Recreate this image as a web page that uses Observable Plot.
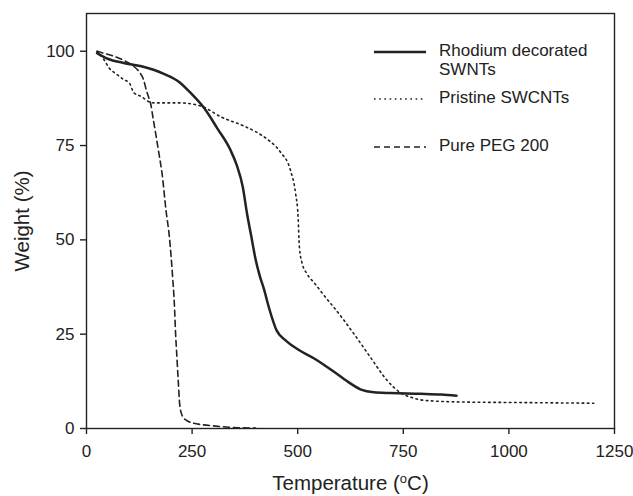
<!DOCTYPE html>
<html><head><meta charset="utf-8">
<script src="https://cdn.jsdelivr.net/npm/d3@7"></script>
<script src="https://cdn.jsdelivr.net/npm/@observablehq/plot@0.6"></script>
<style>body{margin:0;background:#fff} svg{display:block}</style>
</head><body><div id="chart"></div>
<script>
// Rhodium decorated SWNTs
const rhodiumT = [25, 50, 88, 130, 183, 220, 246, 278, 310, 340, 355, 370, 380, 390, 400, 410, 420, 432, 450, 470, 500, 540, 580, 620, 650, 680, 720, 790, 840, 876];
const rhodiumW = [99.5, 98, 96.9, 96, 94, 91.8, 89, 85, 79.5, 74, 70, 64, 57, 51, 45, 40.5, 37, 32, 26, 23.5, 21, 18.5, 15.5, 12.3, 10.3, 9.6, 9.4, 9.2, 9.0, 8.7];
// Pristine SWCNTs
const pristineT = [25, 40, 54, 70, 88, 102, 112, 130, 150, 160, 220, 270, 320, 370, 400, 430, 459, 483, 495, 501, 504, 510, 522, 540, 570, 585, 633, 672, 712, 743, 770, 806, 900, 1000, 1100, 1201];
const pristineW = [100, 98, 95.5, 94, 92.5, 91.5, 89, 88, 86.5, 86.3, 86.3, 85.5, 82.5, 80.3, 78.7, 76.5, 73.3, 68.4, 62.3, 56, 48.1, 44, 41, 38.5, 34.2, 32.2, 25.1, 18.9, 12.7, 9.5, 8.2, 7.4, 7.0, 6.9, 6.8, 6.7];
// Pure PEG 200
const pegT = [25, 40, 64, 90, 112, 125, 135, 142, 148, 152, 158, 164, 172, 179, 188, 196, 204, 208, 211, 214, 217, 221, 227, 236, 254, 274, 300, 330, 360, 400];
const pegW = [100, 99.5, 98.7, 97.5, 96, 94.5, 92.5, 89.5, 87.5, 86, 82, 78, 72.5, 67.5, 58, 51, 40, 33, 25, 19, 13, 6, 3.3, 2.2, 1.4, 1, 0.7, 0.4, 0.2, 0.1];

const xTicks = [0, 250, 500, 750, 1000, 1250];
const yTicks = [0, 25, 50, 75, 100];
const seriesNames = ["Rhodium decorated SWNTs", "Pristine SWCNTs", "Pure PEG 200"];

const toRows = (ts, ws) => ts.map((t, i) => ({t, w: ws[i]}));
const rhodium = toRows(rhodiumT, rhodiumW);
const pristine = toRows(pristineT, pristineW);
const peg = toRows(pegT, pegW);

const ink = "#222";
const chart = Plot.plot({
  width: 633, height: 496,
  marginLeft: 86, marginRight: 19, marginTop: 13, marginBottom: 68,
  style: {fontFamily: "'Liberation Sans', Arial, sans-serif", fontSize: "17px", color: ink, background: "#fff"},
  x: {domain: [0, 1250]},
  y: {domain: [0, 110]},
  marks: [
    Plot.frame({stroke: ink, strokeWidth: 1.4}),
    Plot.axisX({ticks: xTicks, tickSize: 6, tickPadding: 10, tickFormat: d => String(d), fontSize: 17,
      label: "Temperature (oC)", labelAnchor: "center", labelOffset: 61, stroke: ink, strokeWidth: 1.4}),
    Plot.axisY({ticks: yTicks, tickSize: 6, tickPadding: 6, tickFormat: d => String(d), fontSize: 17,
      label: "Weight (%)", labelAnchor: "center", labelOffset: 72, stroke: ink, strokeWidth: 1.4}),
    Plot.line(peg, {x: "t", y: "w", stroke: ink, strokeWidth: 1.6, strokeDasharray: "6,4", curve: "monotone-x"}),
    Plot.line(pristine, {x: "t", y: "w", stroke: ink, strokeWidth: 1.6, strokeDasharray: "1.6,3.6", curve: "monotone-x"}),
    Plot.line(rhodium, {x: "t", y: "w", stroke: ink, strokeWidth: 2.5, curve: "monotone-x"})
  ]
});
document.getElementById("chart").appendChild(chart);

const svg = d3.select(chart);
// axis labels styling + superscript
svg.selectAll("text").each(function() {
  const el = d3.select(this);
  const txt = this.textContent;
  if (txt.startsWith("Temperature")) {
    el.attr("font-size", 20.5).text(null);
    el.append("tspan").text("Temperature (");
    el.append("tspan").attr("baseline-shift", "super").attr("font-size", 13).text("o");
    el.append("tspan").text("C)");
  } else if (txt.startsWith("Weight")) {
    el.attr("font-size", 20.5).text("Weight (%)");
  }
});

// legend
const legend = svg.append("g").attr("fill", ink).attr("font-size", 17)
  .attr("text-anchor", "start")
  .attr("font-family", "'Liberation Sans', Arial, sans-serif");
const items = [
  {name: seriesNames[0], y: 52, dash: null, w: 2.5, lines: ["Rhodium decorated", "SWNTs"]},
  {name: seriesNames[1], y: 99, dash: "1.6,3.6", w: 1.6, lines: ["Pristine SWCNTs"]},
  {name: seriesNames[2], y: 147, dash: "6,4", w: 1.6, lines: ["Pure PEG 200"]}
];
items.forEach(it => {
  legend.append("line").attr("x1", 374).attr("x2", 426).attr("y1", it.y).attr("y2", it.y)
    .attr("stroke", ink).attr("stroke-width", it.w).attr("stroke-dasharray", it.dash);
  it.lines.forEach((l, i) => {
    legend.append("text").attr("x", 439).attr("y", it.y - 2 + i * 19.5).attr("dy", "0.35em").text(l);
  });
});
</script></body></html>
